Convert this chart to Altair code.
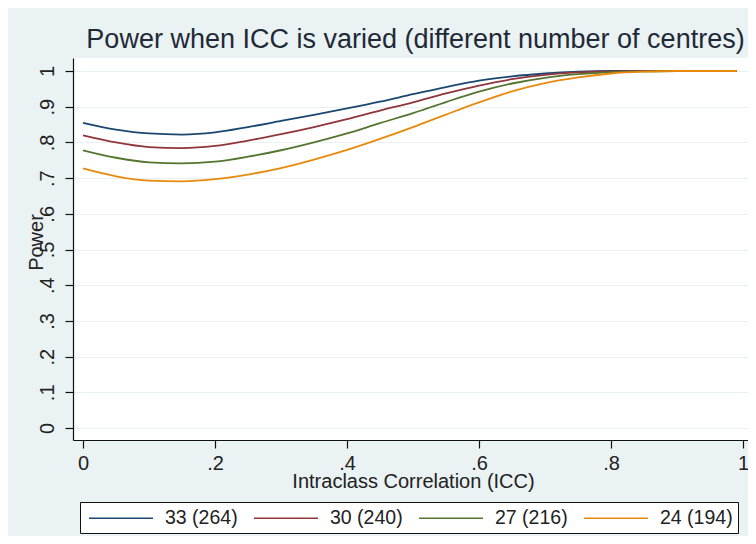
import altair as alt
import pandas as pd

icc = [0.0, 0.05, 0.1, 0.15, 0.2, 0.25, 0.3, 0.35, 0.4, 0.45, 0.5,
       0.55, 0.6, 0.65, 0.7, 0.75, 0.8, 0.85, 0.9, 0.95, 0.99]

s33 = [.855, .836, .825, .822, .828, .843, .860, .877, .895, .914, .935,
       .955, .973, .985, .993, .998, 1.0, 1.0, 1.0, 1.0, 1.0]
s30 = [.820, .800, .787, .784, .790, .805, .823, .843, .865, .889, .912,
       .937, .959, .977, .989, .996, .999, 1.0, 1.0, 1.0, 1.0]
s27 = [.778, .757, .744, .741, .746, .760, .778, .800, .825, .854, .882,
       .913, .942, .965, .981, .991, .997, .999, 1.0, 1.0, 1.0]
s24 = [.727, .705, .693, .691, .697, .710, .728, .752, .779, .810, .843,
       .878, .912, .943, .966, .982, .993, .998, 1.0, 1.0, 1.0]

series_names = ["33 (264)", "30 (240)", "27 (216)", "24 (194)"]
series_vals = [s33, s30, s27, s24]
colors = ["#1a476f", "#90353b", "#55752f", "#e8890c"]

rows = []
for name, vals in zip(series_names, series_vals):
    for x, y in zip(icc, vals):
        rows.append({"icc": x, "power": y, "group": name})
df = pd.DataFrame(rows)

FONT = "Liberation Sans"
TXT = "#222222"

x_ticks = [0, 0.2, 0.4, 0.6, 0.8, 1.0]
y_ticks = [0, 0.1, 0.2, 0.3, 0.4, 0.5, 0.6, 0.7, 0.8, 0.9, 1.0]
lab_expr = "datum.value == 0 ? '0' : (datum.value >= 0.999 ? '1' : replace(format(datum.value, '.1f'), '0.', '.'))"

chart = alt.Chart(df).mark_line(strokeWidth=1.8, interpolate="monotone").encode(
    x=alt.X("icc:Q",
            scale=alt.Scale(domain=[-10 / 660, 1 + 5 / 660], nice=False, zero=False),
            axis=alt.Axis(values=x_ticks, labelExpr=lab_expr, grid=False,
                          title="Intraclass Correlation (ICC)",
                          tickSize=8, labelPadding=5, labelBaseline="top",
                          labelFontSize=20, titleFontSize=20,
                          titleX=340, titleY=47, titleBaseline="alphabetic",
                          titleAlign="center", titleFontWeight="normal")),
    y=alt.Y("power:Q",
            scale=alt.Scale(domain=[-12 / 357, 1 + 13 / 357], nice=False, zero=False),
            axis=alt.Axis(values=y_ticks, labelExpr=lab_expr, grid=True,
                          gridColor="#E8F0F2", gridWidth=1.2,
                          title="Power", tickSize=8, labelPadding=12,
                          labelAngle=270, labelAlign="center", labelBaseline="alphabetic",
                          labelFontSize=20, titleFontSize=20,
                          titleAngle=270, titleX=-31, titleY=184,
                          titleAlign="center", titleBaseline="alphabetic",
                          titleFontWeight="normal")),
    color=alt.Color("group:N",
                    scale=alt.Scale(domain=series_names, range=colors),
                    sort=series_names,
                    legend=alt.Legend(title=None, orient="none", legendX=7, legendY=444,
                                      direction="horizontal", columns=4,
                                      symbolType="M-0.7,0H5.7", symbolSize=400,
                                      symbolStrokeWidth=1.6,
                                      labelFontSize=19.5, labelFont=FONT, labelColor=TXT,
                                      labelOffset=58, columnPadding=12,
                                      padding=5, strokeColor="#111111",
                                      fillColor="#ffffff")),
).properties(
    width=675,
    height=382,
    autosize=alt.AutoSizeParams(type="none"),
    padding={"left": 65, "top": 50, "right": 0, "bottom": 96},
    title=alt.TitleParams(
        "Power when ICC is varied (different number of centres)",
        fontSize=27, font=FONT, color="#1f2a36", fontWeight="normal",
        anchor="middle", frame="group", dx=5, dy=24, offset=7, baseline="alphabetic"),
).configure(
    background="#EAF2F3",
).configure_view(
    fill="#ffffff", stroke=None,
).configure_axis(
    labelFont=FONT, titleFont=FONT, labelColor=TXT, titleColor=TXT,
    domainColor="#111111", tickColor="#111111", domainWidth=1.2, tickWidth=1.2,
)

chart.save("out.html", embed_options={"renderer": "svg", "actions": False})
